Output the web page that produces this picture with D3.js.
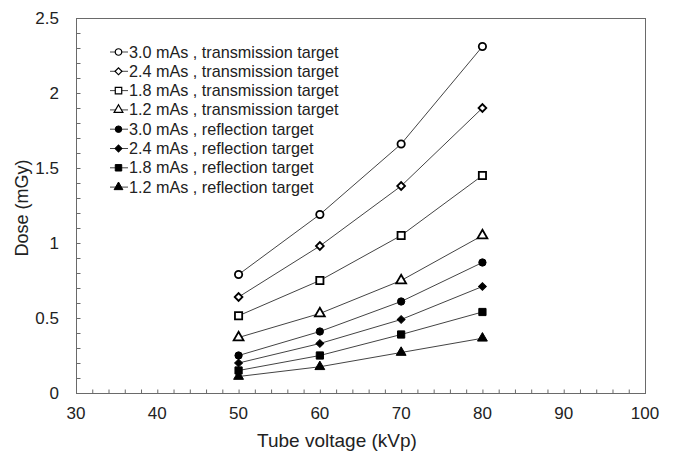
<!DOCTYPE html>
<html>
<head>
<meta charset="utf-8">
<script src="https://cdn.jsdelivr.net/npm/d3@7"></script>
<style>
  body { margin: 0; background: #fff; }
  text { font-family: "Liberation Sans", Arial, sans-serif; fill: #222; }
</style>
</head>
<body>
<div id="chart"></div>
<script>
// frame
const FRAME_WIDTH = 676;
const FRAME_HEIGHT = 454;
const MARGINS = {left: 76, right: 31, top: 18, bottom: 61};
const VIS_WIDTH = FRAME_WIDTH - MARGINS.left - MARGINS.right;
const VIS_HEIGHT = FRAME_HEIGHT - MARGINS.top - MARGINS.bottom;

// data
const voltages = [50, 60, 70, 80];
const seriesNames = [
  "3.0 mAs , transmission target",
  "2.4 mAs , transmission target",
  "1.8 mAs , transmission target",
  "1.2 mAs , transmission target",
  "3.0 mAs , reflection target",
  "2.4 mAs , reflection target",
  "1.8 mAs , reflection target",
  "1.2 mAs , reflection target"
];
const trans30 = [0.79, 1.19, 1.66, 2.31];
const trans24 = [0.64, 0.98, 1.38, 1.90];
const trans18 = [0.515, 0.75, 1.05, 1.45];
const trans12 = [0.37, 0.53, 0.75, 1.05];
const refl30 = [0.25, 0.41, 0.61, 0.87];
const refl24 = [0.20, 0.33, 0.49, 0.71];
const refl18 = [0.15, 0.25, 0.39, 0.54];
const refl12 = [0.11, 0.175, 0.27, 0.365];
const xTicks = [30, 40, 50, 60, 70, 80, 90, 100];
const yTicks = [0, 0.5, 1, 1.5, 2, 2.5];

const allSeries = [trans30, trans24, trans18, trans12, refl30, refl24, refl18, refl12];
// marker shape for each series ("diamond" = square turned 45deg)
const shapes = ["circle", "diamond", "square", "triangle", "circle", "diamond", "square", "triangle"];

function markerPath(shape, scale) {
  if (shape === "circle") return d3.symbol().type(d3.symbolCircle).size(42 * scale)();
  if (shape === "square") return d3.symbol().type(d3.symbolSquare).size(52 * scale)();
  if (shape === "triangle") return d3.symbol().type(d3.symbolTriangle).size(42 * scale)();
  return d3.symbol().type(d3.symbolSquare).size(30 * scale)();
}

const svg = d3.select("#chart")
  .append("svg")
    .attr("width", FRAME_WIDTH)
    .attr("height", FRAME_HEIGHT);

const x_scale = d3.scaleLinear().domain([30, 100]).range([MARGINS.left, MARGINS.left + VIS_WIDTH]);
const y_scale = d3.scaleLinear().domain([0, 2.5]).range([MARGINS.top + VIS_HEIGHT, MARGINS.top]);

// plot border
svg.append("rect")
  .attr("x", MARGINS.left + 0.5)
  .attr("y", MARGINS.top + 0.5)
  .attr("width", VIS_WIDTH)
  .attr("height", VIS_HEIGHT)
  .attr("fill", "none")
  .attr("stroke", "#6a6a6a")
  .attr("stroke-width", 1);

// inward ticks (minor + major), labels drawn separately
const xAxis = svg.append("g")
  .attr("transform", "translate(0," + (MARGINS.top + VIS_HEIGHT + 0.5) + ")")
  .call(d3.axisTop(x_scale).tickValues(d3.range(30, 101, 2)).tickSize(4).tickFormat(""));
const yAxis = svg.append("g")
  .attr("transform", "translate(" + (MARGINS.left + 0.5) + ",0)")
  .call(d3.axisRight(y_scale).tickValues(d3.range(0, 26).map(d => d / 10)).tickSize(4).tickFormat(""));
[xAxis, yAxis].forEach(a => {
  a.select(".domain").remove();
  a.selectAll("line").attr("stroke", "#6a6a6a");
});

svg.selectAll(".xlab")
  .data(xTicks)
  .enter()
  .append("text")
    .attr("x", d => x_scale(d))
    .attr("y", MARGINS.top + VIS_HEIGHT + 26)
    .attr("text-anchor", "middle")
    .attr("font-size", "17px")
    .text(d => d);

svg.selectAll(".ylab")
  .data(yTicks)
  .enter()
  .append("text")
    .attr("x", MARGINS.left - 17)
    .attr("y", d => y_scale(d) + 6)
    .attr("text-anchor", "end")
    .attr("font-size", "17px")
    .text(d => d);

// axis titles
svg.append("text")
  .attr("x", 337)
  .attr("y", 447)
  .attr("text-anchor", "middle")
  .attr("font-size", "19px")
  .text("Tube voltage (kVp)");

svg.append("text")
  .attr("transform", "translate(28," + 208 + ") rotate(-90)")
  .attr("text-anchor", "middle")
  .attr("font-size", "18px")
  .text("Dose (mGy)");

// lines and markers
const line = d3.line()
  .x((d, i) => x_scale(voltages[i]))
  .y(d => y_scale(d));

allSeries.forEach((s, k) => {
  svg.append("path")
    .datum(s)
    .attr("d", line)
    .attr("fill", "none")
    .attr("stroke", "#444")
    .attr("stroke-width", 1);

  svg.selectAll(".m" + k)
    .data(s)
    .enter()
    .append("path")
      .attr("transform", (d, i) => "translate(" + x_scale(voltages[i]) + "," + y_scale(d) + ")"
        + (shapes[k] === "diamond" ? " rotate(45)" : ""))
      .attr("d", markerPath(shapes[k], 1))
      .attr("fill", k < 4 ? "#fff" : "#000")
      .attr("stroke", "#000")
      .attr("stroke-width", k < 4 ? 1.8 : 1);
});

// legend
const legend = svg.append("g").attr("transform", "translate(110,52)");
seriesNames.forEach((name, k) => {
  const g = legend.append("g").attr("transform", "translate(0," + (k * 19.3) + ")");
  g.append("line")
    .attr("x1", 0).attr("x2", 18)
    .attr("y1", 0).attr("y2", 0)
    .attr("stroke", "#444");
  g.append("path")
    .attr("transform", "translate(8.5,0)" + (shapes[k] === "diamond" ? " rotate(45)" : ""))
    .attr("d", markerPath(shapes[k], 0.8))
    .attr("fill", k < 4 ? "#fff" : "#000")
    .attr("stroke", "#000")
    .attr("stroke-width", k < 4 ? 1.2 : 1);
  g.append("text")
    .attr("x", 19)
    .attr("y", 5.5)
    .attr("font-size", "16.2px")
    .text(name);
});
</script>
</body>
</html>
